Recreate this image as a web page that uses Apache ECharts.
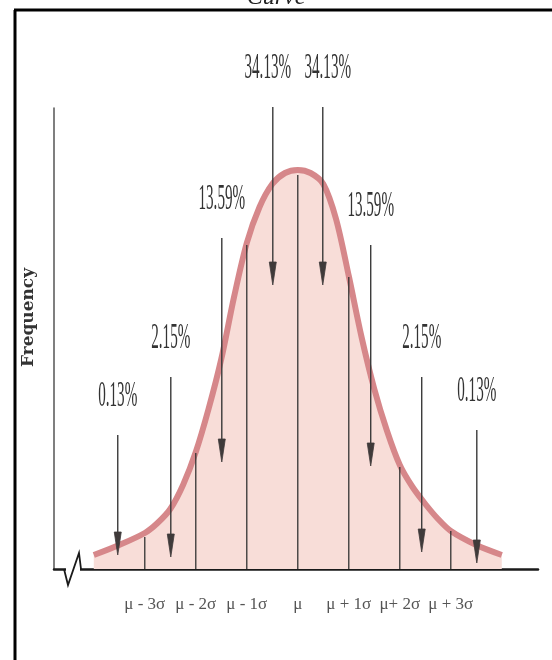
<!DOCTYPE html>
<html>
<head>
<meta charset="utf-8">
<script src="https://cdn.jsdelivr.net/npm/echarts@6/dist/echarts.min.js"></script>
<style>
  html, body { margin: 0; padding: 0; background: #fff; }
  #chart { width: 552px; height: 660px; }
</style>
</head>
<body>
<div id="chart"></div>
<script>
// curve: x in sigma units, y = frequency (arbitrary units)
const curveX = [-4, -3.5, -3, -2.75, -2.5, -2.25, -2, -1.75, -1.5, -1.25, -1, -0.75, -0.5, -0.25, 0,
  0.25, 0.5, 0.75, 1, 1.25, 1.5, 1.75, 2, 2.25, 2.5, 2.75, 3, 3.5, 4];
const curveY = [14, 24, 36, 46, 60, 84, 117, 160, 210, 272, 326, 362, 385, 396, 399,
  396, 385, 350, 293, 232, 180, 138, 104, 82, 65, 50, 38, 24, 14];

// vertical dividers at each sigma
const sigmaPos = [-3, -2, -1, 0, 1, 2, 3];
const dividerTop = [32, 116, 324, 394, 292, 102, 38];

// arrows with percentages
const arrowX = [-3.53, -2.49, -1.49, -0.49, 0.49, 1.43, 2.43, 3.51];
const arrowTop = [134, 192, 331, 462, 462, 324, 192, 139];
const arrowTip = [14, 12, 107, 284, 284, 103, 17, 6];
const arrowLabels = ["0.13%", "2.15%", "13.59%", "34.13%", "34.13%", "13.59%", "2.15%", "0.13%"];

// x axis tick labels
const tickLabels = ["μ - 3σ", "μ - 2σ", "μ - 1σ", "μ", "μ + 1σ", "μ+ 2σ", "μ + 3σ"];

const chart = echarts.init(document.getElementById("chart"));

chart.setOption({
  backgroundColor: "#fff",
  animation: false,
  title: {
    text: "Curve",
    left: "center",
    top: -19,
    textStyle: {
      fontFamily: "Liberation Serif",
      fontStyle: "italic",
      fontSize: 24,
      fontWeight: "normal",
      color: "#222"
    }
  },
  grid: { left: 54, right: 14, top: 108, bottom: 91 },
  xAxis: {
    type: "value",
    min: -4.78,
    max: 4.71,
    splitLine: { show: false },
    axisTick: { show: false },
    axisLine: { show: true, lineStyle: { color: "#1a1a1a", width: 2.5 } },
    axisLabel: {
      customValues: sigmaPos,
      formatter: (v) => tickLabels[sigmaPos.indexOf(Math.round(v))] || "",
      margin: 27,
      fontFamily: "Liberation Serif",
      fontSize: 17,
      color: "#555"
    }
  },
  yAxis: {
    type: "value",
    min: 0,
    max: 461,
    name: "Frequency",
    nameLocation: "middle",
    nameRotate: 90,
    nameGap: 17,
    nameTextStyle: {
      fontFamily: "DejaVu Serif",
      fontWeight: "bold",
      fontSize: 17,
      color: "#333",
      padding: [0, 0, 0, 42]
    },
    splitLine: { show: false },
    axisTick: { show: false },
    axisLabel: { show: false },
    axisLine: { show: true, onZero: false, lineStyle: { color: "#555", width: 1.5 } }
  },
  series: [
    {
      type: "line",
      data: curveX.map((x, i) => [x, curveY[i]]),
      smooth: 0.3,
      symbol: "none",
      z: 2,
      lineStyle: { color: "#d6878a", width: 6 },
      areaStyle: { color: "#f8ddd8", opacity: 1 }
    },
    {
      type: "custom",
      z: 3,
      data: sigmaPos.map((x, i) => [x, dividerTop[i]]),
      renderItem(params, api) {
        const a = api.coord([api.value(0), 0]);
        const b = api.coord([api.value(0), api.value(1)]);
        return {
          type: "line",
          shape: { x1: a[0], y1: a[1], x2: b[0], y2: b[1] },
          style: { stroke: "#333", lineWidth: 1.3 }
        };
      }
    },
    {
      type: "custom",
      z: 4,
      data: arrowX.map((x, i) => [x, arrowTop[i], arrowTip[i]]),
      renderItem(params, api) {
        const a = api.coord([api.value(0), api.value(1)]);
        const b = api.coord([api.value(0), api.value(2)]);
        // the two central labels are pushed apart a little
        const nudge = Math.abs(api.value(0)) < 1 ? Math.sign(api.value(0)) * 5 : 0;
        return {
          type: "group",
          children: [
            {
              type: "line",
              shape: { x1: a[0], y1: a[1], x2: b[0], y2: b[1] - 20 },
              style: { stroke: "#3a3a3a", lineWidth: 1.4 }
            },
            {
              type: "polygon",
              shape: { points: [[b[0] - 3.5, b[1] - 23], [b[0] + 3.5, b[1] - 23], [b[0], b[1]]] },
              style: { fill: "#3f3a3a", stroke: "#3f3a3a", lineWidth: 0.8 }
            },
            {
              type: "text",
              x: a[0] + nudge,
              y: a[1] - 38,
              scaleX: 0.42,
              style: {
                text: arrowLabels[params.dataIndex],
                fontFamily: "Liberation Serif",
                fontSize: 36,
                fill: "#333",
                align: "center",
                verticalAlign: "middle"
              }
            }
          ]
        };
      }
    }
  ],
  graphic: [
    { type: "line", shape: { x1: 14, y1: 10, x2: 552, y2: 10 }, style: { stroke: "#000", lineWidth: 3 } },
    { type: "line", shape: { x1: 15, y1: 10, x2: 15, y2: 660 }, style: { stroke: "#000", lineWidth: 3 } },
    { type: "rect", shape: { x: 66, y: 566, width: 14, height: 6 }, style: { fill: "#fff" }, z: 100 },
    {
      type: "polyline",
      z: 101,
      shape: { points: [[64, 569], [68, 585], [79, 553], [81, 569]] },
      style: { stroke: "#1a1a1a", lineWidth: 1.8, fill: null }
    }
  ]
});
</script>
</body>
</html>
